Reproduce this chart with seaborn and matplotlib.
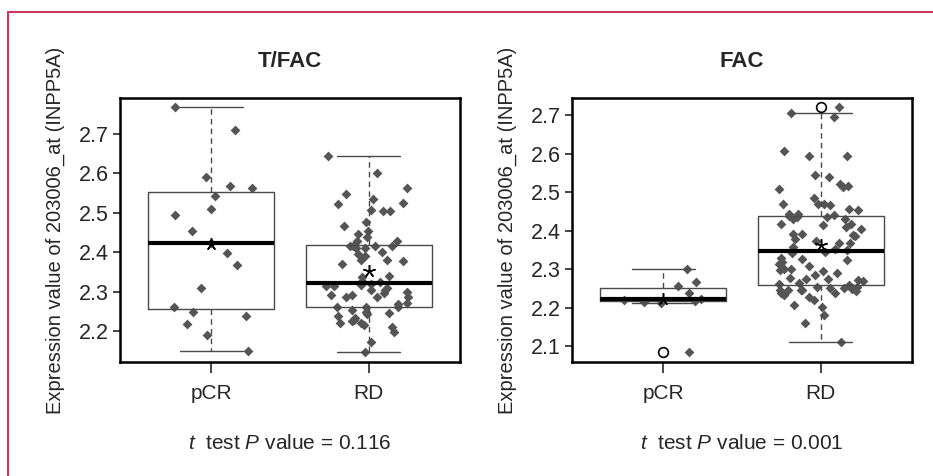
import numpy as np
import pandas as pd
import matplotlib
matplotlib.use("Agg")
import matplotlib.pyplot as plt
import seaborn as sns
from matplotlib.lines import Line2D

# data

groups = ["pCR", "RD"]

tfac_pcr = [2.767, 2.709, 2.589, 2.568, 2.563, 2.542, 2.509, 2.494, 2.454, 2.422,
            2.398, 2.368, 2.308, 2.261, 2.248, 2.237, 2.217, 2.190, 2.150]

tfac_rd = [2.643, 2.600, 2.563, 2.547, 2.534, 2.525, 2.521, 2.507, 2.504, 2.503,
           2.476, 2.466, 2.452, 2.445, 2.439, 2.427, 2.427, 2.416, 2.416,
           2.414, 2.414, 2.410, 2.410, 2.399, 2.395, 2.389, 2.380, 2.380, 2.378,
           2.369, 2.340, 2.338, 2.327, 2.325, 2.318, 2.317, 2.313, 2.313, 2.310,
           2.305, 2.304, 2.300, 2.296, 2.292, 2.290, 2.287, 2.285, 2.285, 2.271,
           2.268, 2.262, 2.262, 2.262, 2.254, 2.249, 2.245, 2.243, 2.237, 2.234,
           2.228, 2.226, 2.220, 2.220, 2.216, 2.211, 2.197, 2.172, 2.147]

fac_pcr = [2.301, 2.266, 2.257, 2.240, 2.224, 2.221, 2.219, 2.216, 2.214, 2.085]

fac_rd = [2.722, 2.705, 2.696, 2.607, 2.595, 2.595, 2.546, 2.540, 2.523, 2.517,
          2.513, 2.508, 2.486, 2.471, 2.471, 2.469, 2.467, 2.457, 2.454, 2.445,
          2.445, 2.440, 2.438, 2.437, 2.436, 2.432, 2.432, 2.419, 2.419, 2.415,
          2.411, 2.404, 2.393, 2.393, 2.389, 2.387, 2.378, 2.374, 2.368, 2.368,
          2.357, 2.352, 2.350, 2.345, 2.342, 2.329, 2.326, 2.324, 2.320, 2.314,
          2.310, 2.300, 2.300, 2.299, 2.297, 2.290, 2.286, 2.277, 2.274, 2.274,
          2.273, 2.270, 2.265, 2.262, 2.260, 2.255, 2.254, 2.251, 2.251, 2.251,
          2.249, 2.247, 2.247, 2.247, 2.247, 2.243, 2.240, 2.238, 2.233, 2.228,
          2.220, 2.208, 2.202, 2.182, 2.160, 2.111]

titles = ["T/FAC", "FAC"]
p_values = ["0.116", "0.001"]
yticks_tfac = [2.2, 2.3, 2.4, 2.5, 2.6, 2.7]
yticks_fac = [2.1, 2.2, 2.3, 2.4, 2.5, 2.6, 2.7]
ylabel = "Expression value of 203006_at (INPP5A)"

# style

sns.set_style("ticks")
plt.rcParams["font.family"] = ["Liberation Sans", "DejaVu Sans"]
plt.rcParams["mathtext.fontset"] = "custom"
plt.rcParams["mathtext.rm"] = "Liberation Sans"
plt.rcParams["mathtext.it"] = "Liberation Sans:italic"

np.random.seed(7)

fig = plt.figure(figsize=(9.33, 4.76), dpi=100)
ax_left = fig.add_axes([120 / 933, 1 - 362 / 476, 340 / 933, 264 / 476])
ax_right = fig.add_axes([572 / 933, 1 - 362 / 476, 340 / 933, 264 / 476])

panels = [
    (ax_left, tfac_pcr, tfac_rd, yticks_tfac, (2.1215, 2.790)),
    (ax_right, fac_pcr, fac_rd, yticks_fac, (2.0596, 2.745)),
]

for i, (ax, pcr, rd, yticks, ylim) in enumerate(panels):
    df = pd.DataFrame({
        "group": ["pCR"] * len(pcr) + ["RD"] * len(rd),
        "value": pcr + rd,
    })

    sns.stripplot(data=df, x="group", y="value", order=groups, ax=ax,
                  jitter=0.27, marker="D", size=5, color="#555555",
                  linewidth=0, zorder=1)

    sns.boxplot(data=df, x="group", y="value", order=groups, ax=ax,
                width=0.8, fill=False, color="#4a4a4a", linewidth=1,
                showmeans=True,
                meanprops=dict(marker=(5, 2, 0), markerfacecolor="black",
                               markeredgecolor="black", markersize=9,
                               markeredgewidth=1.1),
                medianprops=dict(color="black", linewidth=3),
                whiskerprops=dict(linestyle=(0, (4, 3))),
                flierprops=dict(marker="o", markerfacecolor="none",
                                markeredgecolor="black", markersize=7,
                                markeredgewidth=1.2))

    ax.set_xlim(-0.58, 1.58)
    ax.set_ylim(*ylim)
    ax.set_yticks(yticks)
    ax.set_yticklabels([f"{t:.1f}" for t in yticks])

    for side in ["top", "bottom", "left", "right"]:
        ax.spines[side].set_visible(True)
        ax.spines[side].set_linewidth(1.8)
        ax.spines[side].set_color("black")

    ax.tick_params(axis="x", length=8, width=1.2, pad=8, labelsize=15)
    ax.tick_params(axis="y", length=5, width=1.2, pad=3, labelsize=15.5)

    ax.set_title(titles[i], fontsize=16, fontweight="bold", pad=22)
    ax.set_ylabel(ylabel, fontsize=14.5, labelpad=10)
    ax.set_xlabel(rf"$\it{{t}}$  test $\it{{P}}$ value = {p_values[i]}",
                  fontsize=15, labelpad=22)

# pink frame on top and left edges

frame_color = "#c8375c"
fig.add_artist(Line2D([8 / 933, 8 / 933], [0, 1 - 12 / 476],
                      transform=fig.transFigure, color=frame_color, lw=1.5))
fig.add_artist(Line2D([8 / 933, 1], [1 - 12 / 476, 1 - 12 / 476],
                      transform=fig.transFigure, color=frame_color, lw=1.5))

fig.savefig("out.png", dpi=100)
